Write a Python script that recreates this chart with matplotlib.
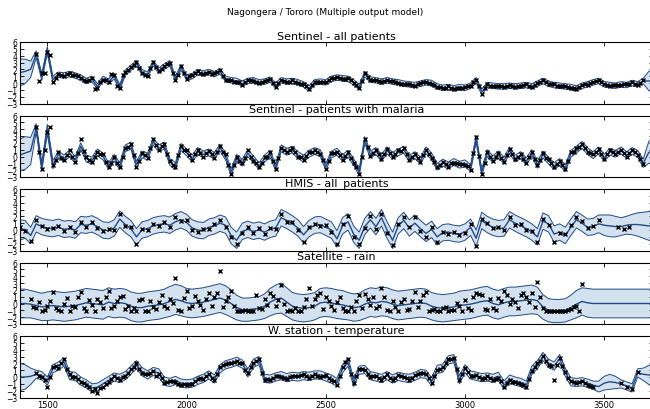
import numpy as np
import matplotlib.pyplot as plt

# prediction grid (every 20 days), obs series given on 20-day steps
x_grid = np.arange(1400, 3700, 20)

# ---- Sentinel - all patients
sent_all_mean = [
    1.5, 1.7, 2.0, 4.2, 0.9, 4.8, 0.5, 1.2, 1.1, 1.3,
    1.1, 0.8, 0.3, 0.6, -0.5, 0.6, 0.2, 1.0, -0.6, 1.5,
    2.2, 2.9, 1.6, 1.2, 2.9, 1.8, 2.4, 2.9, 0.6, 2.3,
    0.8, 1.0, 1.6, 1.4, 1.6, 1.3, 1.7, 0.6, 0.4, 0.3,
    -0.1, 0.3, 0.4, 0.1, 0.2, 0.5, -0.4, 0.4, 0.2, 0.3,
    0.1, -0.2, -0.8, 0.1, 0.2, 0.1, 0.6, 0.8, 0.7, 0.6,
    0.1, -0.6, 1.3, 0.5, 0.4, 0.2, 0.4, 0.2, 0.1, -0.1,
    -0.2, -0.3, -0.1, 0.1, 0.0, -0.5, -0.7, -0.6, -0.8, -0.6,
    -0.7, -0.4, 0.4, -1.3, -0.3, -0.4, -0.5, -0.5, -0.4, -0.5,
    -0.4, -0.3, -0.5, -0.1, 0.3, -0.1, -0.3, -0.4, -0.5, -0.6,
    -0.8, -0.4, -0.2, 0.1, 0.3, -0.2, -0.3, -0.4, -0.2, -0.3,
    0.0, -0.2, 0.3, 0.3, 0.3,
]
sent_all_std = [
    1.0, 0.9, 0.6, 0.25, 0.25, 0.25, 0.25, 0.2, 0.2, 0.2,
    0.2, 0.2, 0.2, 0.2, 0.2, 0.2, 0.2, 0.2, 0.2, 0.2,
    0.2, 0.2, 0.2, 0.2, 0.2, 0.2, 0.2, 0.2, 0.2, 0.2,
    0.2, 0.2, 0.2, 0.2, 0.2, 0.2, 0.2, 0.2, 0.2, 0.2,
    0.2, 0.2, 0.2, 0.2, 0.2, 0.2, 0.2, 0.2, 0.2, 0.2,
    0.2, 0.2, 0.2, 0.2, 0.2, 0.2, 0.2, 0.2, 0.2, 0.2,
    0.2, 0.2, 0.2, 0.2, 0.2, 0.2, 0.2, 0.2, 0.2, 0.2,
    0.2, 0.2, 0.2, 0.2, 0.2, 0.2, 0.2, 0.2, 0.2, 0.2,
    0.2, 0.2, 0.2, 0.2, 0.2, 0.2, 0.2, 0.2, 0.2, 0.2,
    0.2, 0.2, 0.2, 0.2, 0.2, 0.2, 0.2, 0.2, 0.2, 0.2,
    0.2, 0.2, 0.2, 0.2, 0.2, 0.2, 0.2, 0.2, 0.2, 0.2,
    0.2, 0.2, 0.2, 0.7, 0.9,
]
sent_all_obs = [
    4.2, 1.5, 4.6, 0.2, 1.3, 1.0, 1.4,
    1.2, 0.7, 0.3, 0.7, -0.8, 0.5, 0.2, 1.2, -0.8, 1.6,
    2.3, 3.1, 1.5, 1.0, 3.1, 1.7, 2.5, 3.0, 0.5, 2.5,
    0.6, 1.1, 1.7, 1.3, 1.6, 1.4, 1.9, 0.5, 0.5, 0.2,
    -0.3, 0.4, 0.3, 0.0, 0.3, 0.6, -0.6, 0.5, 0.1, 0.4,
    0.0, -0.1, -0.9, 0.2, 0.1, 0.2, 0.7, 0.9, 0.6, 0.7,
    0.0, -0.8, 1.4, 0.4, 0.5, 0.1, 0.5, 0.3, 0.0, -0.2,
    -0.1, -0.4, 0.0, 0.2, -0.1, -0.6, -0.8, -0.5, -0.9, -0.7,
    -0.6, -0.5, 0.5, -1.6, -0.2, -0.5, -0.4, -0.6, -0.3, -0.6,
    -0.5, -0.2, -0.6, 0.0, 0.4, -0.2, -0.2, -0.5, -0.4, -0.7,
    -0.9, -0.3, -0.3, 0.2, 0.4, -0.1, -0.4, -0.3, -0.3, -0.2,
    0.1, -0.3, 0.4,
]
sent_all_start = 1460
sent_all_obs_mid = [
    0.3, 1.4, 4.1, 0.8, 1.1, 1.3, 1.1,
    1.0, 0.5, 0.5, -0.9, 0.2, 0.5, 1.3, -0.5, 1.2, 1.9,
    2.6, 2.2, 1.2, 2.2, 2.4, 2.1, 2.8, 1.5, 1.2, 1.5,
    1.0, 1.4, 1.5, 1.5, 1.3, 1.6, 1.0, 0.4, 0.2, 0.1,
    0.1, 0.5, 0.1, 0.2, 0.4, 0.0, 0.0, 0.3, 0.2, 0.2,
    -0.1, -0.5, -0.3, 0.1, 0.2, 0.4, 0.8, 0.8, 0.6, 0.4,
    -0.3, 0.3, 0.9, 0.5, 0.3, 0.3, 0.3, 0.1, -0.1, -0.2,
    -0.3, -0.2, 0.1, 0.0, -0.3, -0.6, -0.7, -0.7, -0.7, -0.7,
    -0.5, 0.1, -0.5, -0.7, -0.4, -0.5, -0.5, -0.4, -0.5, -0.5,
    -0.3, -0.4, -0.3, 0.2, 0.1, -0.2, -0.4, -0.4, -0.6, -0.7,
    -0.6, -0.2, 0.0, 0.3, 0.1, -0.3, -0.3, -0.3, -0.2, -0.1,
    -0.1, 0.0,
]
sent_all_mid_start = 1470

# ---- Sentinel - patients with malaria
sent_mal_mean = [
    0.2, 0.5, 0.8, 4.2, -1.5, 4.0, -1.2, 0.3, -0.3, 0.5,
    -0.5, 1.5, -0.3, -0.6, 0.6, 0.0, -1.4, -0.2, -1.4, 1.2,
    1.6, -1.2, 0.3, 0.0, 2.2, 1.2, 1.6, -0.8, -1.4, 1.4,
    0.6, -0.3, 0.8, 0.3, 0.6, 0.1, 1.3, 0.0, -2.3, -0.2,
    -0.9, 0.5, -0.4, -1.4, -0.3, 0.4, -1.6, 1.2, 0.7, 1.0,
    0.2, -0.3, 0.4, 0.8, 0.5, -1.5, 0.3, 0.7, -0.2, 0.4,
    -0.8, -2.3, 2.4, 0.3, 0.8, -0.2, 0.9, 0.1, 0.6, 1.0,
    -0.3, 0.2, -0.6, 0.9, 0.0, -1.5, -0.9, -1.3, -0.8, -1.2,
    -1.0, -1.7, 2.6, -2.3, 0.5, -0.4, 0.3, -0.6, 0.9, -0.3,
    0.2, -0.7, 0.5, -1.2, 0.3, -0.6, -1.4, -0.8, -1.7, 0.4,
    1.0, 1.7, 0.8, 0.2, 0.9, -0.2, 0.7, 0.4, 0.9, 0.2,
    0.8, 0.4, -1.0, 0.6, 0.9,
]
sent_mal_std = [
    1.15, 1.2, 1.0, 0.3, 0.3, 0.35, 0.3, 0.25, 0.25, 0.25,
    0.25, 0.25, 0.25, 0.25, 0.25, 0.25, 0.25, 0.25, 0.25, 0.25,
    0.25, 0.25, 0.25, 0.25, 0.25, 0.25, 0.25, 0.25, 0.25, 0.25,
    0.25, 0.25, 0.25, 0.25, 0.25, 0.25, 0.25, 0.25, 0.25, 0.25,
    0.25, 0.25, 0.25, 0.25, 0.25, 0.25, 0.25, 0.25, 0.25, 0.25,
    0.25, 0.25, 0.25, 0.25, 0.25, 0.25, 0.25, 0.25, 0.25, 0.25,
    0.25, 0.25, 0.25, 0.25, 0.25, 0.25, 0.25, 0.25, 0.25, 0.25,
    0.25, 0.25, 0.25, 0.25, 0.25, 0.25, 0.25, 0.25, 0.25, 0.25,
    0.25, 0.25, 0.25, 0.25, 0.25, 0.25, 0.25, 0.25, 0.25, 0.25,
    0.25, 0.25, 0.25, 0.25, 0.25, 0.25, 0.25, 0.25, 0.25, 0.25,
    0.25, 0.25, 0.25, 0.25, 0.25, 0.25, 0.25, 0.25, 0.25, 0.25,
    0.25, 0.25, 0.3, 0.8, 0.95,
]
sent_mal_obs = [
    4.3, -1.8, 3.6, -1.3, 0.6, -0.5, 0.9,
    -0.8, 2.6, -0.1, -0.8, 0.7, 0.3, -1.6, 0.0, -1.6, 1.3,
    1.8, -1.6, 0.5, -0.2, 2.6, 1.0, 1.8, -0.6, -1.6, 1.5,
    0.9, -0.5, 1.0, 0.0, 0.8, -0.2, 1.5, 0.3, -2.6, 0.0,
    -1.0, 0.9, -0.6, -1.6, -0.1, 0.6, -1.8, 1.3, 0.6, 1.3,
    0.0, -0.5, 0.6, 0.9, 0.3, -1.8, 0.5, 0.6, -0.5, 0.6,
    -1.0, -2.5, 2.6, 0.1, 0.9, -0.4, 1.1, 0.0, 0.9, 1.2,
    -0.5, 0.4, -0.8, 1.0, -0.2, -1.6, -0.8, -1.5, -1.0, -1.1,
    -1.2, -2.0, 2.8, -2.5, 0.6, -0.6, 0.5, -0.8, 1.1, -0.4,
    0.4, -0.9, 0.7, -1.3, 0.5, -0.4, -1.6, -0.7, -1.8, 0.6,
    1.3, 1.8, 0.6, 0.3, 1.1, -0.4, 0.9, 0.3, 1.0, 0.0,
    1.0, 0.2, -1.1,
]
sent_mal_start = 1460
sent_mal_obs_mid = [
    0.6, 1.0, 4.3, -0.5, -0.2, 0.2, 0.0,
    0.5, 0.8, -0.5, 0.0, 0.4, -0.8, -0.9, -0.9, 0.0, 1.4,
    0.2, -0.6, 0.2, 1.2, 1.7, 1.6, 0.4, -1.2, 0.2, 1.0,
    0.2, 0.3, 0.5, 0.5, 0.3, 0.7, 0.6, -1.2, -1.3, -0.6,
    -0.2, 0.0, -1.0, -0.9, 0.0, -0.6, -0.2, 1.0, 0.9, 0.6,
    -0.1, 0.1, 0.6, 0.7, -0.5, -0.6, 0.5, 0.2, 0.1, -0.2,
    -1.6, 0.0, 1.4, 0.5, 0.3, 0.4, 0.5, 0.4, 0.8, 0.3,
    -0.1, -0.2, 0.2, 0.4, -0.8, -1.2, -1.1, -1.0, -1.0, -1.1,
    -1.4, 0.5, 0.1, -0.9, 0.0, -0.1, -0.2, 0.2, 0.3, -0.1,
    -0.3, -0.1, -0.4, -0.5, -0.2, -1.0, -1.1, -1.3, -0.6, 0.7,
    1.4, 1.2, 0.5, 0.6, 0.3, 0.3, 0.6, 0.7, 0.5, 0.5,
    0.6, -0.3,
]
sent_mal_mid_start = 1470

# ---- HMIS - all_patients
hmis_mean = [
    0.0, 0.1, -0.8, 0.9, 0.5, 0.3, 0.2, 0.4, 0.1, 0.2,
    0.0, 0.8, 0.7, 0.9, 0.5, 0.0, -0.1, 0.3, 1.6, 0.8,
    0.2, -1.0, 0.0, 0.2, 0.6, 0.8, 0.9, 0.7, 1.2, 1.5,
    1.1, 0.3, 0.0, -0.1, 0.4, 0.6, 1.0, 0.7, -0.8, -1.5,
    -0.2, 0.1, -0.2, 0.0, -0.3, 0.1, 0.3, 1.8, 1.4, 0.9,
    0.3, -0.7, 0.2, 0.7, 0.8, 0.4, 0.0, -1.3, 0.6, 1.2,
    -0.6, -1.5, 0.5, 1.5, 0.5, 1.8, 0.0, -1.5, 0.6, 1.4,
    0.3, 1.0, 0.2, -0.5, 0.1, -1.0, -0.4, -0.3, -0.5, -0.6,
    -0.3, 0.4, -1.2, 1.4, 0.8, 0.4, 0.2, 0.3, 1.5, 1.0,
    0.6, 0.2, -0.3, -1.0, 1.3, 0.9, -0.6, -0.3, -0.8, 0.4,
    1.5, 1.0, 0.4, 0.5, 0.9, 0.7, 0.6, 0.5, 0.5, 0.7,
    0.8, 0.8, 0.7, 0.6, 0.6,
]
hmis_std = [
    0.75, 0.65, 0.6, 0.6, 0.6, 0.6, 0.6, 0.6, 0.6, 0.6,
    0.6, 0.6, 0.6, 0.6, 0.6, 0.6, 0.6, 0.6, 0.6, 0.6,
    0.6, 0.6, 0.6, 0.6, 0.6, 0.6, 0.6, 0.6, 0.6, 0.6,
    0.6, 0.6, 0.6, 0.6, 0.6, 0.6, 0.6, 0.6, 0.6, 0.6,
    0.6, 0.6, 0.6, 0.6, 0.6, 0.6, 0.6, 0.6, 0.6, 0.6,
    0.6, 0.6, 0.6, 0.6, 0.6, 0.6, 0.6, 0.6, 0.6, 0.6,
    0.6, 0.6, 0.6, 0.6, 0.6, 0.6, 0.6, 0.6, 0.6, 0.6,
    0.6, 0.6, 0.6, 0.6, 0.6, 0.6, 0.6, 0.6, 0.6, 0.6,
    0.6, 0.6, 0.6, 0.6, 0.6, 0.6, 0.6, 0.6, 0.6, 0.6,
    0.6, 0.6, 0.6, 0.6, 0.6, 0.6, 0.6, 0.6, 0.6, 0.6,
    0.6, 0.6, 0.6, 0.6, 0.65, 0.75, 0.8, 0.75, 0.65, 0.65,
    0.75, 0.85, 0.95, 1.05, 1.1,
]
hmis_obs = [
    0.4, -0.1, -1.55, 1.4, 0.6, 0.2, 0.3, 0.6, -0.2, 0.4,
    -0.3, 1.2, 0.5, 1.1, 0.3, -0.2, 0.2, 0.0, 2.3, 0.6,
    0.5, -2.0, 0.2, 0.0, 0.9, 0.6, 1.2, 0.5, 1.9, 1.3,
    1.4, 0.0, -0.3, 0.2, 0.2, 0.9, 1.4, 0.5, -1.0, -2.0,
    -0.5, 0.4, -0.5, 0.3, -0.6, 0.3, 0.1, 2.3, 1.2, 1.1,
    0.0, -1.8, 0.5, 0.9, 0.6, 0.7, -0.3, -2.0, 0.9, 2.1,
    -1.0, -2.0, 0.3, 2.1, 0.2, 2.3, -0.4, -2.2, 0.9, 1.9,
    0.5, 1.9, -0.1, -1.0, 0.4, -1.7, -0.3, -0.6, -0.3, -0.8,
    -0.5, 0.9, -2.3, 1.6, 1.0, 0.3, 0.4, 0.0, 1.9, 0.8,
    0.9, 0.0, -0.1, -1.8, 1.6, 0.7, -1.8, -0.5, -0.6, 0.7,
    1.9, 1.3, 0.3, 0.6, 1.4,
]
hmis_start = 1400
hmis_late_x = [3550, 3570, 3590]
hmis_late_obs = [0.5, 0.1, 0.4]

# ---- Satellite - rain
rain_mean = [
    0.0, 0.0, -0.1, -0.3, -0.5, -0.4, -0.3, -0.4, -0.5, -0.4,
    -0.3, -0.1, 0.1, 0.0, -0.1, -0.2, 0.2, 0.0, 0.1, 0.0,
    -0.4, -0.6, -0.6, -0.4, -0.3, -0.2, 0.0, 0.3, 0.6, 0.4,
    0.1, 0.0, 0.1, 0.2, 0.4, 0.6, 0.8, 0.5, 0.0, -0.6,
    -0.9, -0.9, -0.8, -0.7, -0.4, 0.2, 0.6, 0.8, 0.2, -0.4,
    -0.6, -0.7, -0.6, -0.4, 0.1, 0.2, 0.1, -0.1, -0.2, -0.4,
    -0.6, -0.5, -0.1, 0.2, 0.1, 0.3, 0.2, -0.1, -0.3, -0.2,
    -0.1, 0.0, 0.1, 0.0, -0.4, -0.6, -0.7, -0.6, -0.5, -0.3,
    -0.2, -0.1, 0.1, 0.3, 0.4, 0.0, -0.2, 0.1, 0.3, 0.3,
    0.4, 0.5, 0.6, 0.4, -0.5, -1.0, -1.1, -1.1, -1.0, -0.6,
    -0.1, 0.3, 0.1, 0.0, 0.0, 0.0, 0.0, 0.0, 0.0, 0.0,
    0.0, 0.0, 0.0, 0.0, 0.0,
]
rain_std = [
    1.05, 1.05, 1.0, 1.0, 1.0, 1.05, 1.05, 1.05, 1.05, 1.05,
    1.05, 1.05, 1.05, 1.05, 1.05, 1.05, 1.05, 1.05, 1.05, 1.05,
    1.05, 1.05, 1.05, 1.05, 1.05, 1.05, 1.05, 1.1, 1.1, 1.1,
    1.05, 1.05, 1.05, 1.05, 1.05, 1.05, 1.05, 1.05, 1.0, 0.9,
    0.85, 0.85, 0.85, 0.85, 0.9, 1.0, 1.05, 1.1, 1.05, 1.0,
    1.0, 1.0, 1.0, 1.0, 1.05, 1.05, 1.05, 1.05, 1.05, 1.0,
    1.0, 1.0, 1.05, 1.05, 1.05, 1.05, 1.05, 1.05, 1.05, 1.05,
    1.05, 1.05, 1.05, 1.05, 1.0, 1.0, 1.0, 1.0, 1.0, 1.05,
    1.05, 1.05, 1.05, 1.05, 1.05, 1.05, 1.05, 1.05, 1.05, 1.05,
    1.05, 1.05, 1.05, 1.0, 0.9, 0.85, 0.85, 0.85, 0.85, 0.9,
    1.0, 1.0, 1.05, 1.05, 1.05, 1.05, 1.05, 1.05, 1.05, 1.05,
    1.05, 1.05, 1.05, 1.05, 1.05,
]
rain_obs = [
    0.6, -0.7, -1.1, -0.4, 1.7, -0.9, 0.0, -1.1,
    -0.5, 1.7, -1.1, -0.2, 0.7, -0.6, 1.9, -0.3, 0.9, -0.8,
    -1.1, -1.1, 0.6, -1.1, -0.5, 0.2, -0.4, 0.7, 3.8, -1.1,
    1.9, -0.3, 0.4, -0.9, 1.5, 0.9, 4.7, 0.3, 1.9, -1.1,
    -1.1, -1.1, -1.1, -0.7, 0.6, 1.6, -0.3, 2.7, -1.1, -1.1,
    -1.1, -0.5, 2.2, 0.6, 1.6, 0.9, -0.4, 0.2, -0.6, -1.1,
    -1.1, 1.2, 1.4, -0.2, -0.6, 2.2, -0.9, 0.4, -1.1, 0.6,
    -0.8, 1.7, 0.3, 1.7, -0.9, -1.1, -0.7, -1.1, -1.0, -0.4,
    0.5, -0.9, 1.6, 1.2, -0.9, -0.6, 0.8, 1.9, -0.1, 0.2,
    1.3, 1.0, 1.6, 3.1, -0.6, -1.1, -1.1, -1.1, -1.1, -0.8,
    -0.4, 2.8,
]
rain_start = 1440
rain_obs_mid = [
    -0.5, 0.2, -0.9, 0.4, -0.6, -1.1, 0.8, -0.3,
    0.9, -0.7, 0.5, -1.1, 0.2, 1.0, -0.6, 0.3, 1.1, -0.4,
    -0.7, 0.5, -1.1, 0.3, -0.8, 1.2, -0.6, 0.1, -0.9, 0.8,
    -0.6, 1.1, -0.2, 0.7, -0.4, 1.6, -0.5, 0.9, -0.3, -1.1,
    -1.0, -1.1, 1.3, -0.8, -0.2, 1.1, 0.5, 0.0, -1.0, -0.7,
    -1.1, 0.6, -0.3, 1.3, -0.8, 0.4, -0.9, 1.0, -1.1, -0.5,
    0.3, -0.6, 0.7, 1.0, -0.4, 0.9, -1.1, -0.5, 0.2, -0.9,
    0.4, -0.5, 1.2, -1.1, -0.8, -1.1, -0.5, -0.9, 0.1, -1.1,
    -0.6, 0.9, 1.4, -0.8, 0.6, -1.0, 0.4, 1.2, 0.7, -0.6,
    1.5, 0.2, -0.5, 0.9, -1.1, -1.1, -1.1, -1.1, -0.9, -0.5,
    -1.1,
]
rain_mid_start = 1450

# ---- W. station - temperature
temp_mean = [
    0.0, 0.0, 0.1, 0.4, 0.2, -0.6, 1.2, 1.6, 2.2, 0.2,
    0.1, -0.6, -1.0, -1.6, -1.5, -1.0, -0.5, 0.0, -0.2, 0.2,
    1.0, 1.8, 0.8, 0.3, 0.8, 0.6, -0.6, -0.8, -0.5, -0.9,
    -1.0, -0.9, -0.5, -0.2, 0.3, -0.3, 1.2, 1.8, 2.0, 2.3,
    1.9, 0.6, 2.0, 2.4, -0.2, -0.3, 0.0, 0.2, -0.1, 0.1,
    0.0, 0.2, 0.1, 0.3, 0.3, 0.0, -0.3, -0.8, 1.2, 2.2,
    -0.8, 1.0, 1.1, 0.2, 0.0, -0.2, 0.2, -0.3, 0.1, -0.1,
    -0.2, 0.1, 0.5, 0.4, -0.7, 1.1, 1.3, 2.5, 2.7, -0.4,
    1.2, 0.3, 0.1, -0.1, 0.0, -0.2, 0.1, -1.2, -0.3, -0.6,
    -0.8, -1.2, 1.0, 1.8, 3.0, 2.0, 1.6, 2.7, 0.7, -0.7,
    -0.8, -0.7, -0.9, -1.2, -1.4, -0.9, -0.7, -0.8, -1.0, -1.3,
    -1.6, 0.6, 0.4, 0.3, 0.2,
]
temp_std = [
    1.0, 0.9, 0.6, 0.3, 0.3, 0.3, 0.3, 0.3, 0.3, 0.3,
    0.3, 0.3, 0.3, 0.3, 0.3, 0.3, 0.3, 0.3, 0.3, 0.3,
    0.3, 0.3, 0.3, 0.3, 0.3, 0.3, 0.3, 0.3, 0.3, 0.3,
    0.3, 0.3, 0.3, 0.3, 0.3, 0.3, 0.3, 0.3, 0.3, 0.3,
    0.3, 0.3, 0.3, 0.3, 0.3, 0.3, 0.3, 0.3, 0.3, 0.3,
    0.3, 0.3, 0.3, 0.3, 0.3, 0.3, 0.3, 0.3, 0.3, 0.3,
    0.3, 0.3, 0.3, 0.3, 0.3, 0.3, 0.3, 0.3, 0.3, 0.3,
    0.3, 0.3, 0.3, 0.3, 0.3, 0.3, 0.3, 0.3, 0.3, 0.3,
    0.3, 0.3, 0.3, 0.3, 0.3, 0.3, 0.3, 0.3, 0.3, 0.3,
    0.3, 0.3, 0.3, 0.3, 0.3, 0.3, 0.3, 0.3, 0.3, 0.3,
    0.3, 0.3, 0.3, 0.3, 0.4, 0.5, 0.55, 0.45, 0.3, 0.3,
    0.3, 0.3, 0.45, 0.7, 0.9,
]
temp_obs = [
    0.6, 0.0, -1.4, 1.4, 1.3, 2.6, 0.4,
    0.0, -0.8, -1.2, -2.1, -2.3, -1.4, -0.7, 0.1, -0.4, 0.1,
    1.2, 2.0, 0.6, 0.5, 0.9, 0.4, -0.9, -0.6, -0.8, -1.1,
    -1.1, -1.0, -0.3, -0.3, 0.4, -0.5, 1.4, 1.9, 2.1, 2.4,
    2.0, 0.6, 2.1, 2.6, -0.4, -0.5, 0.2, 0.0, -0.3, 0.2,
    0.2, 0.4, -0.1, 0.5, 0.0, 0.3, -0.4, -1.1, 1.4, 2.6,
    -0.9, 1.2, 1.0, 0.0, 0.2, -0.4, 0.4, -0.5, 0.3, 0.0,
    -0.4, 0.3, 0.6, 0.5, -0.9, 1.0, 1.4, 2.6, 2.8, -0.5,
    1.3, 0.1, 0.3, -0.3, 0.2, -0.4, -0.1, -1.4, -0.5, -0.8,
    -1.0, -1.4, 0.9, 2.0, 3.1, 1.7, -0.4, 2.8, 0.7, -0.6,
    -0.9, -0.6, -1.1, -1.5,
]
temp_start = 1460
temp_obs_mid = [
    0.2, -0.5, 0.0, 1.6, 2.0, 1.2, 0.0,
    -0.3, -0.9, -1.4, -1.8, -1.6, -1.0, -0.3, -0.1, 0.0, 0.6,
    1.5, 1.2, 0.4, 0.6, 0.2, -0.2, -0.7, -0.6, -1.0, -1.0,
    -1.0, -0.6, -0.2, 0.2, -0.2, 0.5, 1.7, 2.0, 2.2, 2.1,
    1.0, 1.4, 2.4, 0.6, -0.3, -0.2, 0.1, -0.1, 0.0, 0.1,
    0.3, 0.1, 0.2, 0.2, 0.2, -0.1, -0.6, 0.2, 2.2, 0.5,
    0.2, 1.1, 0.5, 0.1, -0.1, 0.0, -0.1, -0.1, 0.2, -0.2,
    -0.1, 0.4, 0.6, -0.2, 0.2, 1.2, 2.0, 2.7, 1.2, 0.4,
    0.7, 0.2, 0.0, -0.1, -0.1, -0.3, -0.6, -0.9, -0.7, -0.9,
    -1.2, -0.3, 1.4, 2.4, 2.4, 1.6, 1.8, 1.6, -0.2, -0.8,
    -0.7, -0.9, -1.3,
]
temp_mid_start = 1470
temp_late_x = [3560, 3580, 3600, 3620]
temp_late_obs = [-0.9, -1.4, -1.8, 0.7]

TITLES = [
    "Sentinel - all patients",
    "Sentinel - patients with malaria",
    "HMIS - all_patients",
    "Satellite - rain",
    "W. station - temperature",
]

DARK = "#204a87"
LIGHT = "#729fcf"


def obs_x(start, vals):
    return start + 20 * np.arange(len(vals))


def draw_gp(ax, mean, std, obs_sets):
    mean = np.asarray(mean)
    std = np.asarray(std)
    lo = mean - 2 * std
    hi = mean + 2 * std
    ax.fill_between(x_grid, lo, hi, facecolor=LIGHT, alpha=0.3, edgecolor="none")
    ax.plot(x_grid, lo, color=DARK, lw=0.7)
    ax.plot(x_grid, hi, color=DARK, lw=0.7)
    ax.plot(x_grid, mean, color=DARK, lw=1.0)
    for xs, ys in obs_sets:
        ax.plot(xs, ys, "x", color="k", ms=3.5, mew=1.0)


def main():
    fig = plt.figure(figsize=(6.5, 4.1), dpi=100)
    fig.suptitle("Nagongera / Tororo (Multiple output model)", fontsize=6.5, y=0.98)

    panels = [
        (sent_all_mean, sent_all_std,
         [(obs_x(sent_all_start, sent_all_obs), sent_all_obs),
          (obs_x(sent_all_mid_start, sent_all_obs_mid), sent_all_obs_mid)]),
        (sent_mal_mean, sent_mal_std,
         [(obs_x(sent_mal_start, sent_mal_obs), sent_mal_obs),
          (obs_x(sent_mal_mid_start, sent_mal_obs_mid), sent_mal_obs_mid)]),
        (hmis_mean, hmis_std,
         [(obs_x(hmis_start, hmis_obs), hmis_obs),
          (hmis_late_x, hmis_late_obs)]),
        (rain_mean, rain_std,
         [(obs_x(rain_start, rain_obs), rain_obs),
          (obs_x(rain_mid_start, rain_obs_mid), rain_obs_mid)]),
        (temp_mean, temp_std,
         [(obs_x(temp_start, temp_obs), temp_obs),
          (obs_x(temp_mid_start, temp_obs_mid), temp_obs_mid),
          (temp_late_x, temp_late_obs)]),
    ]

    tops_px = [43, 116.5, 190, 263.5, 337]
    h_px = 61.5
    for i, (title, (mean, std, obs_sets)) in enumerate(zip(TITLES, panels)):
        bottom = 1 - (tops_px[i] + h_px) / 410
        ax = fig.add_axes([19.5 / 650, bottom, 0.975, h_px / 410])
        draw_gp(ax, mean, std, obs_sets)
        ax.set_xlim(1400, 3676)
        ax.set_ylim(-3, 6)
        ax.set_yticks(range(-3, 7))
        ax.set_xticks([1500, 2000, 2500, 3000, 3500])
        ax.tick_params(direction="in", top=True, right=True, length=3, width=0.6,
                       labelsize=5.5, pad=1.5)
        ax.tick_params(axis="x", labelsize=6, pad=1.5)
        if i < 4:
            ax.set_xticklabels([])
        ax.set_title(title, fontsize=8, pad=2.5)

    fig.savefig("out.png", dpi=100)


if __name__ == "__main__":
    main()
